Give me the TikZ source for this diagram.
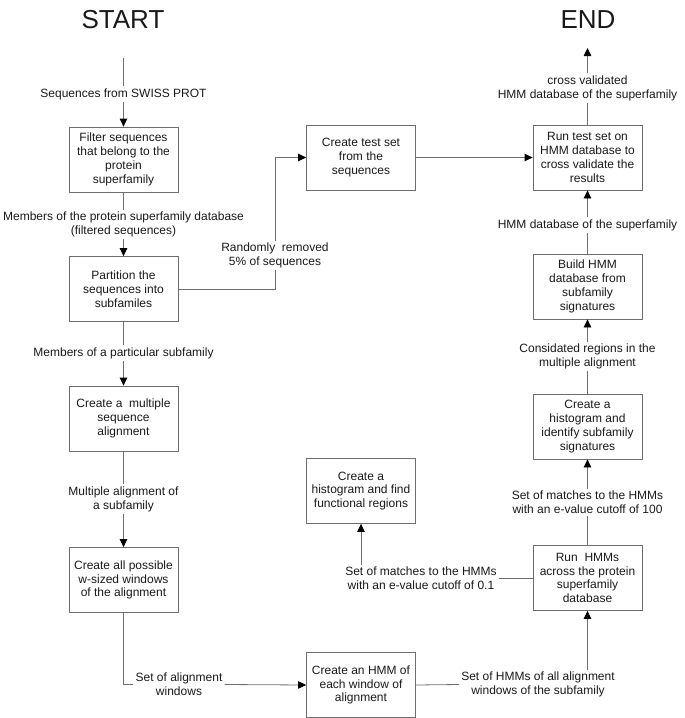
\documentclass[tikz,border=0pt]{standalone}
\usepackage{fontspec}
\setmainfont{Liberation Sans}
\usetikzlibrary{arrows.meta}
\definecolor{linegray}{HTML}{6E6E6E}
\begin{document}
\begin{tikzpicture}[x=1pt,y=-1pt,
  every node/.style={font=\fontsize{12}{13.8}\selectfont, text=black!90},
  procbox/.style={draw=linegray, line width=0.8pt, rectangle, minimum width=109pt, minimum height=65pt, align=center, inner sep=1pt},
  lbl/.style={align=center, inner sep=2pt},
  title/.style={font=\fontsize{26}{30}\selectfont},
  conn/.style={draw=linegray, line width=0.8pt},
  arr/.style={conn, -{Triangle[length=8pt,width=7.5pt,color=black,fill=black]}}
]
\useasboundingbox (0,0) rectangle (685,718);

% titles
\node[title] (start) at (123,20) {START};
\node[title] (end) at (588,20) {END};

% left column
\node[procbox] (f1) at (123.5,159.5) {Filter sequences\\that belong to the\\protein\\superfamily};
\node[procbox] (f2) at (123.5,289) {Partition the\\sequences into\\subfamiles};
\node[procbox] (f3) at (123.5,418.5) {Create a\ \ multiple\\sequence\\alignment};
\node[procbox] (f4) at (123.5,580) {Create all possible\\w-sized windows\\of the alignment};

% middle column
\node[procbox] (m1) at (361,157.5) {Create test set\\from the\\sequences};
\node[procbox] (m2) at (361,491) {Create a\\histogram and find\\functional regions};
\node[procbox] (m3) at (361,685) {Create an HMM of\\each window of\\alignment};

% right column
\node[procbox] (r1) at (587.5,157.5) {Run test set on\\HMM database to\\cross validate the\\results};
\node[procbox] (r2) at (587.5,286.5) {Build HMM\\database from\\subfamily\\signatures};
\node[procbox] (r3) at (587.5,426.5) {Create a\\histogram and\\identify subfamily\\signatures};
\node[procbox] (r4) at (587.5,578) {Run\ \ HMMs\\across the protein\\superfamily\\database};

% labels
\node[lbl] (l1) at (123.5,94) {Sequences from SWISS PROT};
\node[lbl] (l2) at (123.5,224.5) {Members of the protein superfamily database\\(filtered sequences)};
\node[lbl] (l3) at (275,255.5) {Randomly\ \ removed\\5\% of sequences};
\node[lbl] (l4) at (123.5,353) {Members of a particular subfamily};
\node[lbl] (l5) at (123.5,499) {Multiple alignment of\\a subfamily};
\node[lbl] (l6) at (179,684.5) {Set of alignment\\windows};
\node[lbl] (l7) at (587.5,88) {cross validated\\HMM database of the superfamily};
\node[lbl] (l8) at (587.5,225) {HMM database of the superfamily};
\node[lbl] (l9) at (587.5,356.5) {Considated regions in the\\multiple alignment};
\node[lbl] (l10) at (587.5,502) {Set of matches to the HMMs\\with an e-value cutoff of 100};
\node[lbl] (l11) at (421,578) {Set of matches to the HMMs\\with an e-value cutoff of 0.1};
\node[lbl] (l12) at (538,684.5) {Set of HMMs of all alignment\\windows of the subfamily};

\coordinate (s0) at (123.5,58);
\coordinate (e0) at (587.5,48);

% connectors
\draw[conn] (s0) -- (l1.north);
\draw[arr] (l1.south) -- (f1.north);
\draw[conn] (f1.south) -- (l2.north);
\draw[arr] (l2.south) -- (f2.north);
\draw[conn] (f2.east) -| (l3.south);
\draw[arr] (l3.north) |- (m1.west);
\draw[arr] (m1.east) -- (r1.west);
\draw[conn] (r1.north) -- (l7.south);
\draw[arr] (l7.north) -- (e0);
\draw[conn] (r2.north) -- (l8.south);
\draw[arr] (l8.north) -- (r1.south);
\draw[conn] (r3.north) -- (l9.south);
\draw[arr] (l9.north) -- (r2.south);
\draw[conn] (r4.north) -- (l10.south);
\draw[arr] (l10.north) -- (r3.south);
\draw[conn] (r4.west) -- (l11.east);
\draw[arr] (l11.north -| m2.south) -- (m2.south);
\draw[conn] (f2.south) -- (l4.north);
\draw[arr] (l4.south) -- (f3.north);
\draw[conn] (f3.south) -- (l5.north);
\draw[arr] (l5.south) -- (f4.north);
\draw[conn] (f4.south) |- (l6.west);
\draw[arr] (l6.east) -- (m3.west);
\draw[conn] (m3.east) -- (l12.west);
\draw[arr] (l12.north -| r4.south) -- (r4.south);
\end{tikzpicture}
\end{document}
